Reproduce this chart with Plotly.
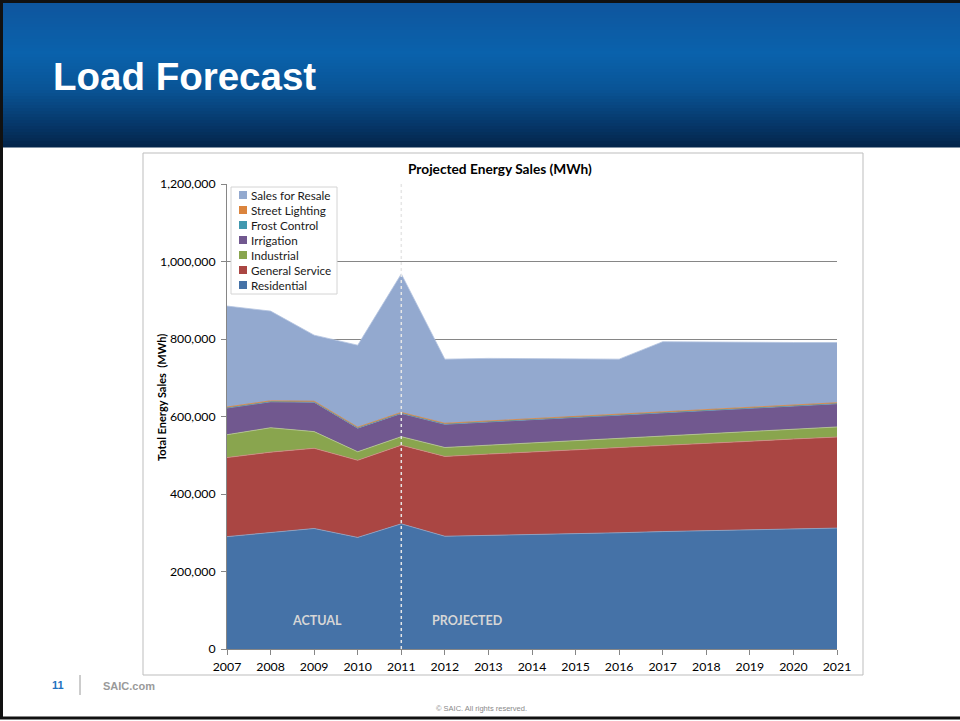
import plotly.graph_objects as go

# ---- data (MWh) ----
years = list(range(2007, 2022))

residential = [290000, 301000, 311000, 288000, 323000, 291000, 293000, 295000,
               298000, 300000, 303000, 305000, 307000, 310000, 312000]
general_service = [204000, 207000, 207000, 199000, 203000, 206000, 210000, 213000,
                   216000, 220000, 222000, 226000, 229000, 232000, 235000]
industrial = [59000, 63000, 43000, 22000, 22000, 23000, 23000, 24000,
              24000, 23000, 24000, 24000, 25000, 25000, 26000]
irrigation = [69000, 67000, 76000, 61000, 60000, 60000, 60000, 60000,
              60000, 61000, 61000, 60000, 60000, 60000, 60000]
frost_control = [500, 500, 500, 500, 500, 500, 500, 500,
                 500, 500, 500, 500, 500, 500, 500]
street_lighting = [2000, 2000, 2000, 2000, 2000, 2000, 2000, 2000,
                   2000, 2000, 2000, 2000, 2000, 2000, 2000]
sales_for_resale = [260500, 231500, 170500, 211500, 357500, 165500, 161500, 154500,
                    148500, 141500, 180500, 174500, 168500, 161500, 155500]

y_ticks = [0, 200000, 400000, 600000, 800000, 1000000, 1200000]
y_tick_labels = ["0", "200,000", "400,000", "600,000", "800,000", "1,000,000", "1,200,000"]

series = [
    ("Residential", residential, "#4572A7", "#8aa6c9"),
    ("General Service", general_service, "#AA4643", "#d08a87"),
    ("Industrial", industrial, "#89A54E", "#b8cc8e"),
    ("Irrigation", irrigation, "#71588F", "#a795bd"),
    ("Frost Control", frost_control, "#4198AF", "#4198AF"),
    ("Street Lighting", street_lighting, "#DB843D", "#DB843D"),
    ("Sales for Resale", sales_for_resale, "#93A9CF", "#b3c3df"),
]

# ---- page geometry (pixels) ----
W, H = 960, 721
PL, PR, PT, PB = 227, 837, 184, 649   # plot area edges


def fx(x):
    return (x - PL) / (PR - PL)


def fy(y):
    return (PB - y) / (PB - PT)


fig = go.Figure()
for name, vals, color, edge in series:
    fig.add_trace(go.Scatter(
        x=years, y=vals, name=name, mode="lines",
        stackgroup="one", fillcolor=color,
        line=dict(color=edge, width=0.8),
        showlegend=False, hoverinfo="x+y+name",
    ))

shapes = []
annotations = []

# banner gradient
stops = [(0.0, (14, 86, 158)), (0.35, (10, 98, 172)), (0.6, (9, 84, 150)),
         (0.85, (6, 55, 105)), (1.0, (4, 38, 76))]


def grad(t):
    for (t0, c0), (t1, c1) in zip(stops[:-1], stops[1:]):
        if t0 <= t <= t1:
            k = (t - t0) / (t1 - t0)
            return "rgb(%d,%d,%d)" % tuple(round(a + (b - a) * k) for a, b in zip(c0, c1))
    return "rgb(%d,%d,%d)" % stops[-1][1]


band_top, band_bot = 3, 147
n = 48
for i in range(n):
    y0 = band_top + (band_bot - band_top) * i / n
    y1 = band_top + (band_bot - band_top) * (i + 1) / n + 0.5
    shapes.append(dict(type="rect", xref="paper", yref="paper", layer="below",
                       x0=fx(0), x1=fx(W), y0=fy(y1), y1=fy(y0),
                       fillcolor=grad(i / (n - 1)), line=dict(width=0)))

# outer frame
shapes.append(dict(type="rect", xref="paper", yref="paper", layer="above",
                   x0=fx(1.5), x1=fx(W + 5), y0=fy(718), y1=fy(1.5),
                   line=dict(color="#111111", width=3), fillcolor="rgba(0,0,0,0)"))

# chart frame
shapes.append(dict(type="rect", xref="paper", yref="paper", layer="below",
                   x0=fx(143), x1=fx(863), y0=fy(675), y1=fy(153),
                   fillcolor="white", line=dict(color="#bdbdbd", width=1)))

# divider between actual and projected
shapes.append(dict(type="line", xref="x", yref="paper", layer="above",
                   x0=2011, x1=2011, y0=0, y1=1,
                   line=dict(color="#e6e6e6", width=1.5, dash="dot")))

# footer divider
shapes.append(dict(type="line", xref="paper", yref="paper",
                   x0=fx(80), x1=fx(80), y0=fy(695), y1=fy(675),
                   line=dict(color="#9a9a9a", width=1)))

# legend box
shapes.append(dict(type="rect", xref="paper", yref="paper", layer="above",
                   x0=fx(231), x1=fx(337), y0=fy(294), y1=fy(187),
                   fillcolor="white", line=dict(color="#d4d4d4", width=1)))

for i, (name, vals, color, edge) in enumerate(reversed(series)):
    yc = 195 + i * 15
    shapes.append(dict(type="rect", xref="paper", yref="paper", layer="above",
                       x0=fx(239), x1=fx(247), y0=fy(yc + 4), y1=fy(yc - 4),
                       fillcolor=color, line=dict(width=0)))
    annotations.append(dict(text=name, xref="paper", yref="paper",
                            x=fx(248.5), y=fy(yc), xanchor="left", yanchor="middle",
                            showarrow=False, font=dict(family="Lato", size=11.7, color="#1a1a1a")))

# text
annotations += [
    dict(text="<b>Load Forecast</b>", xref="paper", yref="paper", x=fx(51), y=fy(77),
         xanchor="left", yanchor="middle", showarrow=False,
         font=dict(family="Liberation Sans, Arial", size=38.5, color="white")),
    dict(text="<b>Projected Energy Sales (MWh)</b>", xref="paper", yref="paper",
         x=fx(500), y=fy(168), xanchor="center", yanchor="middle", showarrow=False,
         font=dict(family="Lato", size=13.7, color="#000000")),
    dict(text="<b>Total Energy Sales  (MWh)</b>", xref="paper", yref="paper",
         x=fx(161), y=fy(398), xanchor="center", yanchor="middle", textangle=-90,
         showarrow=False, font=dict(family="Lato", size=11, color="#000000")),
    dict(text="<b>ACTUAL</b>", xref="paper", yref="paper", x=fx(317), y=fy(620),
         xanchor="center", yanchor="middle", showarrow=False,
         font=dict(family="Lato", size=12.5, color="#d6d6d6")),
    dict(text="<b>PROJECTED</b>", xref="paper", yref="paper", x=fx(467), y=fy(620),
         xanchor="center", yanchor="middle", showarrow=False,
         font=dict(family="Lato", size=12.5, color="#d6d6d6")),
    dict(text="<b>11</b>", xref="paper", yref="paper", x=fx(58), y=fy(685),
         xanchor="center", yanchor="middle", showarrow=False,
         font=dict(family="Liberation Sans", size=11, color="#1f72bf")),
    dict(text="<b>SAIC.com</b>", xref="paper", yref="paper", x=fx(101), y=fy(686),
         xanchor="left", yanchor="middle", showarrow=False,
         font=dict(family="Liberation Sans", size=11, color="#9a9a9a")),
    dict(text="© SAIC. All rights reserved.", xref="paper", yref="paper", x=fx(481), y=fy(708),
         xanchor="center", yanchor="middle", showarrow=False,
         font=dict(family="Liberation Sans", size=7.5, color="#8a8a8a")),
]

fig.update_layout(
    width=W, height=H,
    margin=dict(l=PL, r=W - PR, t=PT, b=H - PB, pad=0),
    paper_bgcolor="white", plot_bgcolor="rgba(0,0,0,0)",
    shapes=shapes, annotations=annotations, showlegend=False,
    font=dict(family="Lato", size=11, color="#000000"),
)
fig.update_xaxes(
    range=[2007, 2021], tickmode="array", tickvals=years, ticktext=[str(y) for y in years],
    showgrid=False, zeroline=False, showline=True, linecolor="#868686", linewidth=1,
    ticks="outside", ticklen=5, tickcolor="#868686", ticklabelstandoff=1,
    tickfont=dict(family="Lato", size=12.3, color="#000000"),
)
fig.update_yaxes(
    range=[0, 1200000], tickmode="array", tickvals=y_ticks, ticktext=y_tick_labels,
    showgrid=True, gridcolor="#868686", gridwidth=1, zeroline=False,
    showline=True, linecolor="#868686", linewidth=1,
    ticks="outside", ticklen=5, tickcolor="#868686", ticklabelstandoff=3,
    tickfont=dict(family="Lato", size=12.3, color="#000000"),
)

fig.write_html("out.html")
